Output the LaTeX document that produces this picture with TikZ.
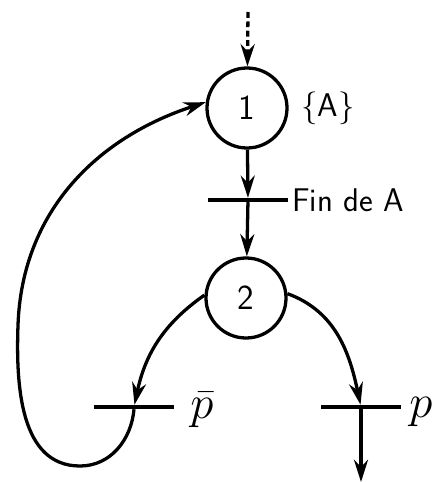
\RequirePackage{fix-cm}
\documentclass[tikz,border=0pt]{standalone}
\usepackage{fontspec}
\usepackage{tikz}
\usetikzlibrary{arrows.meta, positioning}

\begin{document}
\begin{tikzpicture}[
  x=0.03cm, y=0.03cm,
  place/.style = {circle, draw, line width=2.8pt, minimum size=2.4cm,
                  inner sep=0pt, font=\sffamily\fontsize{30}{36}\selectfont},
  trans/.style = {rectangle, fill=black, minimum width=2.4cm,
                  minimum height=3.4pt, inner sep=0pt},
  arrow/.style = {-{Stealth[length=19pt, width=12pt]}, line width=2.8pt},
  lbl/.style   = {font=\sffamily\fontsize{28}{34}\selectfont, inner sep=0pt},
  var/.style   = {font=\fontsize{40}{46}\selectfont, inner sep=0pt}
]
\useasboundingbox (0,0) rectangle (446,-482);

% places and transitions
\node[place] (p1) at (247,-108) {1};
\node[trans] (t1) at (248,-200) {};
\node[place] (p2) at (246,-298) {2};
\node[trans] (t2) at (134,-407) {};
\node[trans] (t3) at (361,-407) {};

\coordinate (start) at (248,-12);
\coordinate (end)   at (361,-482);
\coordinate (bend)  at (80,-466);
\coordinate (side)  at (18,-325);

% labels
\node[lbl] (setA) at (328,-108) {\{A\}};
\node[lbl, anchor=west] (finA) at (292,-200) {Fin de A};
\node[var] (pbar) at (202,-410) {$\bar{p}$};
\node[var] (pp)   at (421,-412) {$p$};

% arcs
\draw[arrow, dash pattern=on 5pt off 3pt] (start) -- (p1);
\draw[arrow] (p1) -- (t1);
\draw[arrow] (t1) -- (p2);
\draw[arrow] (p2.176) to[out=215, in=78] (t2);
\draw[arrow] (p2.6) to[out=-20, in=102] (t3);
\draw[arrow] (t3) -- (end);
\draw[arrow] (t2.south) to[out=-95, in=0] (bend)
  to[out=180, in=-92] (side) to[out=88, in=198] (p1.172);

\end{tikzpicture}
\end{document}
